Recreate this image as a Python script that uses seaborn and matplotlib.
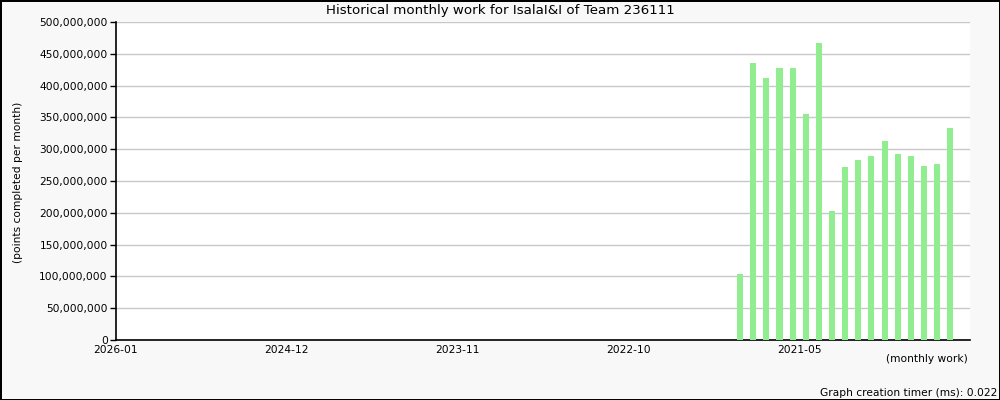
import matplotlib
matplotlib.use("Agg")
import matplotlib.pyplot as plt
import matplotlib.ticker as mticker
import seaborn as sns
import pandas as pd

# ---- data ----
bar_months = ["2022-01", "2021-12", "2021-11", "2021-10", "2021-09", "2021-08",
              "2021-07", "2021-06", "2021-05", "2021-04", "2021-03", "2021-02",
              "2021-01", "2020-12", "2020-11", "2020-10", "2020-09"]
bar_values = [104e6, 436e6, 412e6, 428e6, 428e6, 355e6,
              467e6, 203e6, 272e6, 283e6, 289e6, 313e6,
              292e6, 289e6, 274e6, 277e6, 333e6]
tick_labels = ["2026-01", "2024-12", "2023-11", "2022-10", "2021-05"]
title = "Historical monthly work for IsalaI&I of Team 236111"
ylabel = "(points completed per month)"
xlabel = "(monthly work)"
footer = "Graph creation timer (ms): 0.022"

# category axis: months from 2025-12 back to 2020-08 (left to right)
all_months = [str(p) for p in pd.period_range(end="2025-12", periods=65, freq="M")][::-1]

df = pd.DataFrame({"month": bar_months, "points": bar_values})

sns.set_style("white")
plt.rcParams["font.family"] = ["DejaVu Sans"]
plt.rcParams["text.color"] = "black"
plt.rcParams["xtick.color"] = "black"
plt.rcParams["ytick.color"] = "black"

fig = plt.figure(figsize=(10, 4), dpi=100, facecolor="#f8f8f8",
                 edgecolor="black", linewidth=2)
ax = fig.add_axes([0.116, 0.15, 0.854, 0.795])
ax.set_facecolor("white")

sns.barplot(data=df, x="month", y="points", order=all_months, color="#90ee90",
            saturation=1, width=0.46, errorbar=None, linewidth=0, ax=ax)
for p in ax.patches:
    p.set_zorder(3)

ax.set_xlim(-0.5, 64.5)
ax.set_ylim(0, 500e6)
ax.yaxis.set_major_locator(mticker.MultipleLocator(50e6))
ax.yaxis.set_major_formatter(mticker.FuncFormatter(lambda v, p: f"{int(v):,}"))
ax.grid(axis="y", color="#c8c8c8", linewidth=1, zorder=0)
ax.set_axisbelow(True)

major = [-0.5 + 13 * i for i in range(5)]
minor = [6.0 + 13 * i for i in range(5)] + [64.5]
ax.set_xticks(major)
ax.set_xticklabels(tick_labels)
ax.set_xticks(minor, minor=True)
ax.tick_params(axis="x", which="both", direction="in", length=5, width=1,
               color="black", labelcolor="black", labelsize=7.7, pad=3.5)
ax.tick_params(axis="y", direction="out", length=4, width=1, color="black",
               labelcolor="black", labelsize=7.7, pad=2, left=True)

for s in ["top", "right"]:
    ax.spines[s].set_visible(False)
for s in ["left", "bottom"]:
    ax.spines[s].set_color("black")
    ax.spines[s].set_linewidth(1.2)
ax.set_xlabel("")
ax.set_ylabel("")

fig.text(0.5, 0.974, title, ha="center", va="center", fontsize=9.6, color="black")
fig.text(0.018, 0.545, ylabel, ha="center", va="center", rotation=90,
         fontsize=7.7, color="black")
fig.text(0.968, 0.103, xlabel, ha="right", va="center", fontsize=7.7, color="black")
fig.text(0.997, 0.018, footer, ha="right", va="center", fontsize=7.7, color="black")

fig.savefig("out.png", dpi=100, facecolor=fig.get_facecolor(),
            edgecolor=fig.get_edgecolor())
